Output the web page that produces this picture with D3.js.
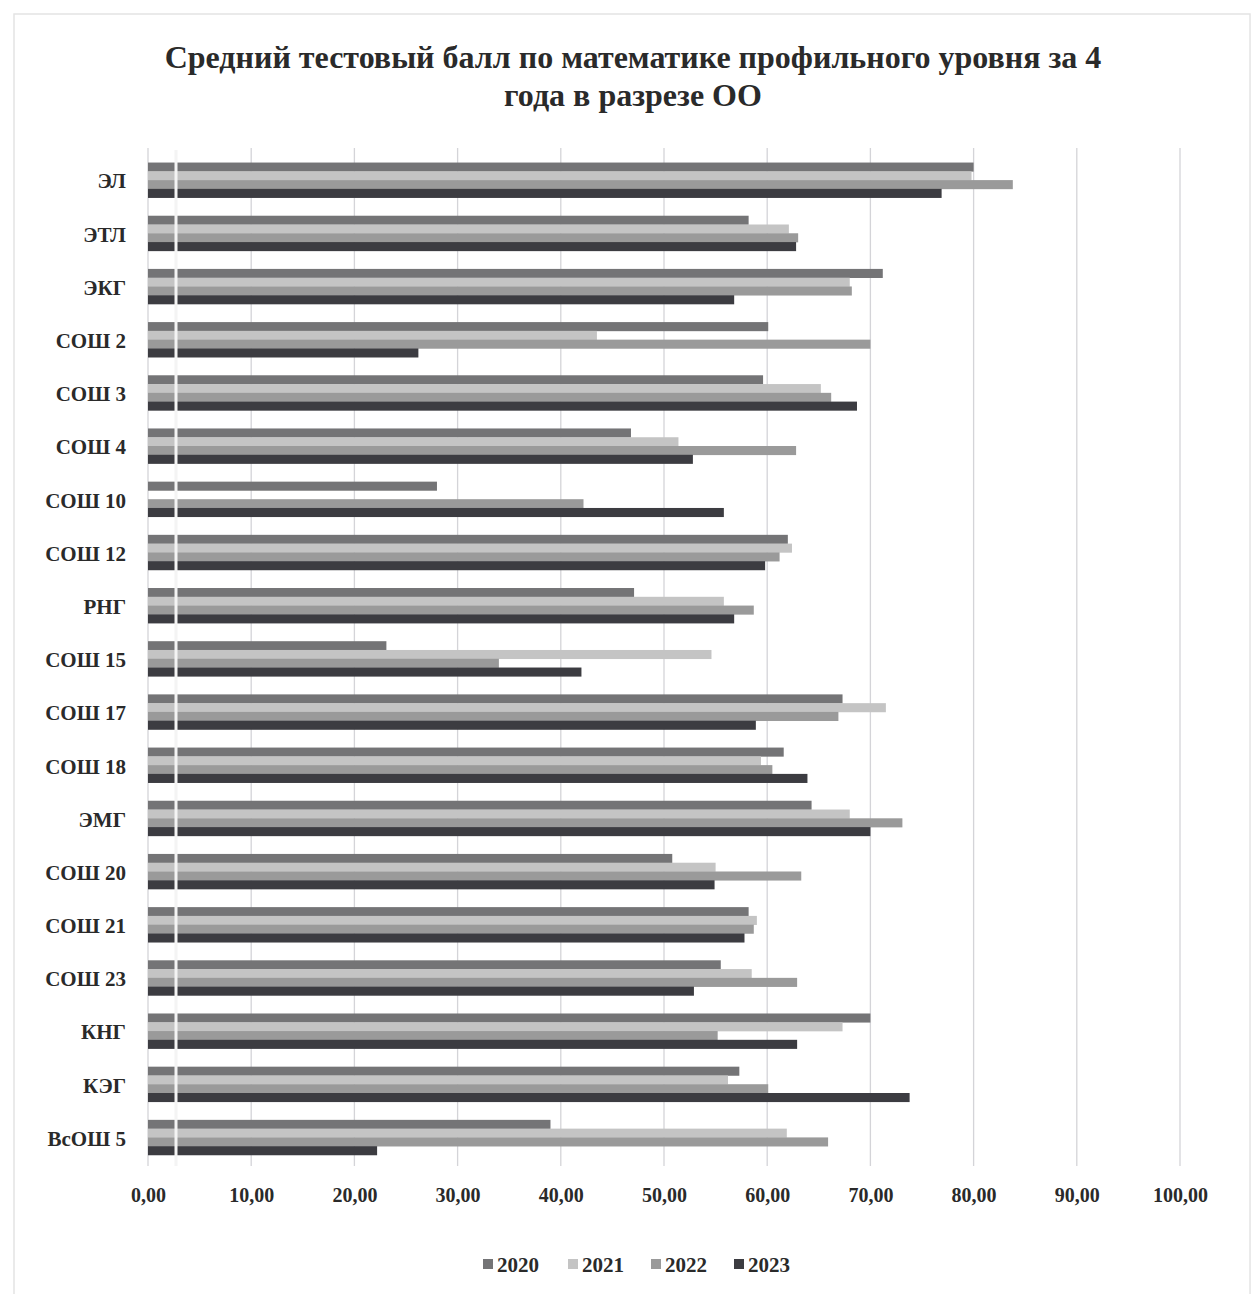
<!DOCTYPE html>
<html><head><meta charset="utf-8">
<script src="https://cdn.jsdelivr.net/npm/d3@7/dist/d3.min.js"></script>
<style>
body{margin:0;background:#fff;}
text{font-family:"Liberation Serif","Times New Roman",serif;font-weight:bold;fill:#2a2a2a;}
</style></head><body>
<svg id="c" width="1251" height="1294"></svg>
<script>
const categories = ["ЭЛ","ЭТЛ","ЭКГ","СОШ 2","СОШ 3","СОШ 4","СОШ 10","СОШ 12","РНГ","СОШ 15","СОШ 17","СОШ 18","ЭМГ","СОШ 20","СОШ 21","СОШ 23","КНГ","КЭГ","ВсОШ 5"];
const seriesNames = ["2020","2021","2022","2023"];
const v2020 = [80.0,58.2,71.2,60.1,59.6,46.8,28.0,62.0,47.1,23.1,67.3,61.6,64.3,50.8,58.2,55.5,70.0,57.3,39.0];
const v2021 = [79.8,62.1,68.0,43.5,65.2,51.4,0,62.4,55.8,54.6,71.5,59.4,68.0,55.0,59.0,58.5,67.3,56.2,61.9];
const v2022 = [83.8,63.0,68.2,70.0,66.2,62.8,42.2,61.2,58.7,34.0,66.9,60.5,73.1,63.3,58.7,62.9,55.2,60.1,65.9];
const v2023 = [76.9,62.8,56.8,26.2,68.7,52.8,55.8,59.8,56.8,42.0,58.9,63.9,70.0,54.9,57.8,52.9,62.9,73.8,22.2];
const tickValues = [0,10,20,30,40,50,60,70,80,90,100];
const seriesValues = [v2020,v2021,v2022,v2023];
const colors = ["#747476","#c4c4c4","#9a9a9a","#3c3c41"];

const svg = d3.select("#c");
svg.append("rect").attr("x",14).attr("y",14).attr("width",1236).attr("height",1290)
  .attr("fill","none").attr("stroke","#e4e4e4").attr("stroke-width",1.5);

const x = d3.scaleLinear().domain([0,100]).range([148,1180]);
const y = d3.scaleBand().domain(categories).range([153.5,1164]).paddingInner(0.34).paddingOuter(0.17);
const ys = d3.scaleBand().domain(seriesNames).range([0,y.bandwidth()]);

svg.append("g").selectAll("line").data(tickValues).join("line")
  .attr("x1",d=>x(d)).attr("x2",d=>x(d)).attr("y1",148).attr("y2",1166)
  .attr("stroke","#d4d4d8").attr("stroke-width",1.3);

const rows = categories.map((c,i)=>({c, vals: seriesNames.map((s,j)=>({s,v:seriesValues[j][i],j}))}));
const g = svg.append("g");
g.selectAll("g").data(rows).join("g")
  .attr("transform",d=>`translate(0,${y(d.c)})`)
  .selectAll("rect").data(d=>d.vals.filter(e=>e.v>0)).join("rect")
  .attr("x",x(0)).attr("y",d=>ys(d.s)).attr("height",ys.bandwidth()+0.3)
  .attr("width",d=>x(d.v)-x(0)).attr("fill",d=>colors[d.j]);

svg.append("line").attr("x1",176).attr("x2",176).attr("y1",150).attr("y2",1166)
  .attr("stroke","#f4f4f4").attr("stroke-width",3);

const ya = svg.append("g").attr("transform","translate(126,0)")
  .call(d3.axisLeft(y).tickSize(0).tickPadding(0));
ya.select(".domain").remove();
ya.selectAll("text").attr("font-size",21).attr("font-family","Liberation Serif").attr("font-weight","bold").attr("fill","#2a2a2a").attr("dy","0.4em");

const xa = svg.append("g").attr("transform","translate(0,1182)")
  .call(d3.axisBottom(x).tickValues(tickValues).tickSize(0).tickPadding(0)
    .tickFormat(d=>d3.format(".2f")(d).replace(".",",")));
xa.select(".domain").remove();
xa.selectAll("text").attr("font-size",20).attr("font-family","Liberation Serif").attr("font-weight","bold").attr("fill","#2a2a2a").attr("dy","1.0em");

const title = svg.append("text").attr("text-anchor","middle").attr("font-size",32).attr("fill","#1e1e1e");
title.append("tspan").attr("x",633).attr("y",68).text("Средний тестовый балл по математике профильного уровня за 4");
title.append("tspan").attr("x",633).attr("y",106).text("года в разрезе ОО");

const legX = [483,568,651,734];
const lg = svg.append("g").selectAll("g").data(seriesNames).join("g")
  .attr("transform",(d,i)=>`translate(${legX[i]},1265)`);
lg.append("rect").attr("x",0).attr("y",-6).attr("width",10).attr("height",10).attr("fill",(d,i)=>colors[i]);
lg.append("text").attr("x",14).attr("y",7).attr("font-size",21).text(d=>d);
</script></body></html>
